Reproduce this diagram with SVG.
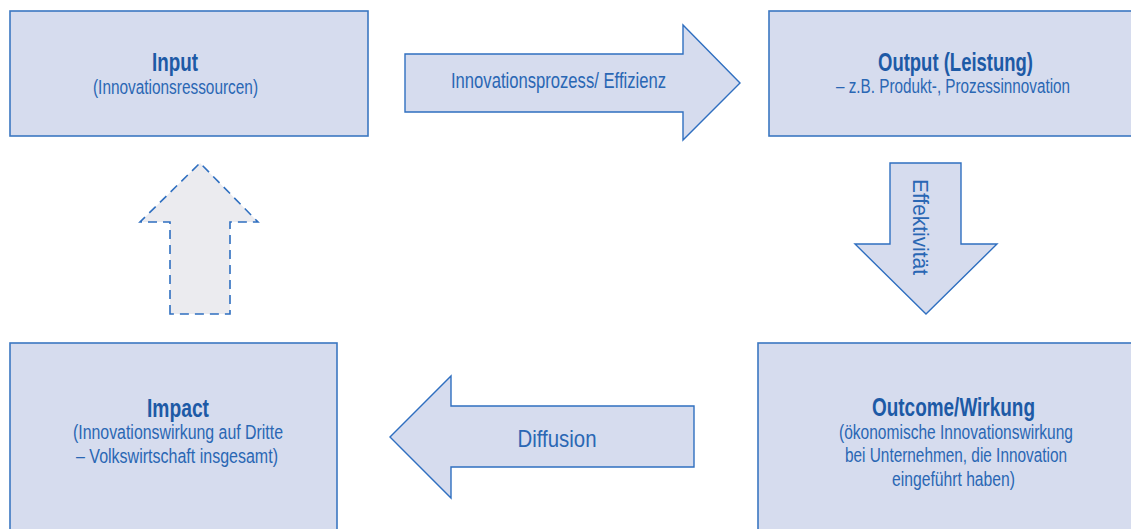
<svg xmlns="http://www.w3.org/2000/svg" width="1131" height="529" viewBox="0 0 1131 529">
<style>
.box{fill:#d6dcee;stroke:#3b77c1;stroke-width:1.6}
.arr{fill:#d6dcee;stroke:#2f6fc0;stroke-width:1.4;stroke-linejoin:miter}
.dash{fill:#ebebef;stroke:#2f6fc0;stroke-width:1.6;stroke-dasharray:9,6}
text{font-family:"Liberation Sans",Arial,sans-serif;text-anchor:middle;fill:#2a67b4}
.t{font-weight:bold;font-size:25px;fill:#1d5aa6}
.s{font-size:19.5px}
.a{font-size:22px}
</style>
<rect width="1131" height="529" fill="#ffffff"/>
<g id="input">
<rect class="box" x="10" y="11" width="358" height="125"/>
<text class="t" x="175" y="71" textLength="46" lengthAdjust="spacingAndGlyphs">Input</text>
<text class="s" x="175.5" y="94" textLength="165" lengthAdjust="spacingAndGlyphs">(Innovationsressourcen)</text>
</g>
<g id="output">
<rect class="box" x="769" y="11" width="370" height="125"/>
<text class="t" x="955.5" y="71" textLength="155" lengthAdjust="spacingAndGlyphs">Output (Leistung)</text>
<text class="s" x="953" y="93" textLength="234" lengthAdjust="spacingAndGlyphs">– z.B. Produkt-, Prozessinnovation</text>
</g>
<g id="impact">
<rect class="box" x="10" y="343" width="327" height="200"/>
<text class="t" x="178" y="417" textLength="62" lengthAdjust="spacingAndGlyphs">Impact</text>
<text class="s" x="178" y="439" textLength="210" lengthAdjust="spacingAndGlyphs">(Innovationswirkung auf Dritte</text>
<text class="s" x="177" y="463" textLength="202" lengthAdjust="spacingAndGlyphs">– Volkswirtschaft insgesamt)</text>
</g>
<g id="outcome">
<rect class="box" x="758" y="343" width="380" height="200"/>
<text class="t" x="953.5" y="416" textLength="163" lengthAdjust="spacingAndGlyphs">Outcome/Wirkung</text>
<text class="s" x="956" y="439" textLength="234" lengthAdjust="spacingAndGlyphs">(ökonomische Innovationswirkung</text>
<text class="s" x="956" y="462" textLength="222" lengthAdjust="spacingAndGlyphs">bei Unternehmen, die Innovation</text>
<text class="s" x="953.5" y="486" textLength="123" lengthAdjust="spacingAndGlyphs">eingeführt haben)</text>
</g>
<g id="connectors">
<g id="effizienz">
<polygon class="arr" points="405,54 683,54 683,25 740,83 683,140 683,112 405,112"/>
<text class="a" x="558.5" y="88" textLength="215" lengthAdjust="spacingAndGlyphs">Innovationsprozess/ Effizienz</text>
</g>
<g id="effektivitaet">
<polygon class="arr" points="890,163 961,163 961,244 997,244 926,314 855,244 890,244"/>
<text class="a" transform="translate(913,227) rotate(90)" x="0" y="0" textLength="96" lengthAdjust="spacingAndGlyphs">Effektivität</text>
</g>
<g id="diffusion">
<polygon class="arr" points="694,406 451,406 451,376 390,437 451,498 451,467 694,467"/>
<text class="a" x="557" y="447" textLength="79" lengthAdjust="spacingAndGlyphs" style="font-size:24px">Diffusion</text>
</g>
<g id="feedback">
<polygon class="dash" points="170,314 170,222 140,222 200,163 258,222 230,222 230,314"/>
</g>
</g>
</svg>
